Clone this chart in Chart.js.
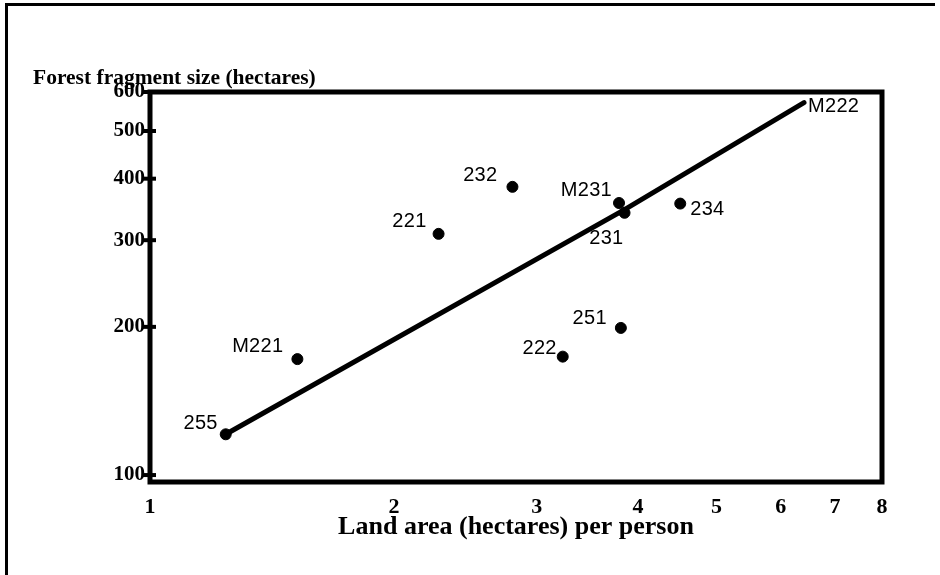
<!DOCTYPE html>
<html>
<head>
<meta charset="utf-8">
<script src="https://cdn.jsdelivr.net/npm/chart.js@4/dist/chart.umd.min.js"></script>
<style>
  body { margin: 0; background: #fff; }
  canvas { display: block; }
</style>
</head>
<body>
<canvas id="chart" width="940" height="575"></canvas>
<script>
// point data (log-log)
const pointNames = ['255', 'M221', '221', '232', '222', 'M231', '231', '251', '234'];
const landArea = [1.24, 1.52, 2.27, 2.80, 3.23, 3.79, 3.85, 3.81, 4.51];
const fragmentSize = [121, 172, 309, 385, 174, 357, 341, 199, 356];

// fitted line
const lineX = [1.24, 3.85, 6.41];
const lineY = [121, 346, 571];
const lineName = 'M222';

const xTicks = [1, 2, 3, 4, 5, 6, 7, 8];
const yTicks = [100, 200, 300, 400, 500, 600];

// label placement around each dot: [dx, dy, align]
const labelOffsets = [
    [-8, -11, 'right'], [-14, -13, 'right'], [-12, -12, 'right'],
    [-15, -11, 'right'], [-6, -8, 'right'], [-7, -13, 'right'],
    [-1, 26, 'right'], [-14, -9, 'right'], [10, 6, 'left']
];

const serif = '"Liberation Serif", "Times New Roman", serif';
const sans = '"Liberation Sans", Arial, sans-serif';

const labelsPlugin = {
    id: 'pointLabels',
    beforeDraw(chart) {
        const ctx = chart.ctx;
        ctx.save();
        ctx.fillStyle = '#000';
        ctx.fillRect(5, 3, 3, 572);
        ctx.fillRect(5, 3, 930, 3);
        ctx.restore();
    },
    afterDatasetsDraw(chart) {
        const ctx = chart.ctx;
        const area = chart.chartArea;
        ctx.save();
        ctx.strokeStyle = '#000';
        ctx.lineWidth = 5;
        ctx.strokeRect(area.left, area.top, area.right - area.left, area.bottom - area.top);

        // y tick marks crossing the left axis
        const ys = chart.scales.y;
        ctx.lineWidth = 4;
        yTicks.forEach(v => {
            const py = ys.getPixelForValue(v);
            ctx.beginPath();
            ctx.moveTo(area.left - 7, py);
            ctx.lineTo(area.left + 6, py);
            ctx.stroke();
        });

        ctx.fillStyle = '#000';
        ctx.font = '20px ' + sans;
        ctx.letterSpacing = '0.3px';
        ctx.textBaseline = 'middle';
        const pts = chart.getDatasetMeta(0).data;
        pts.forEach((p, i) => {
            const off = labelOffsets[i];
            ctx.textAlign = off[2];
            ctx.fillText(pointNames[i], p.x + off[0], p.y + off[1]);
        });
        const ln = chart.getDatasetMeta(1).data;
        const end = ln[ln.length - 1];
        ctx.textAlign = 'left';
        ctx.fillText(lineName, end.x + 4, end.y + 4);

        // y axis title, horizontal above the plot
        ctx.letterSpacing = '0px';
        ctx.font = 'bold 21.5px ' + serif;
        ctx.textAlign = 'left';
        ctx.fillText('Forest fragment size (hectares)', 33, 78);
        ctx.restore();
    }
};

new Chart(document.getElementById('chart'), {
    type: 'scatter',
    data: {
        datasets: [{
            data: landArea.map((x, i) => ({ x: x, y: fragmentSize[i] })),
            backgroundColor: '#000',
            borderColor: '#000',
            pointRadius: 5.5,
            pointHoverRadius: 5.5
        }, {
            data: lineX.map((x, i) => ({ x: x, y: lineY[i] })),
            showLine: true,
            borderColor: '#000',
            borderWidth: 5,
            borderCapStyle: 'round',
            pointRadius: 0,
            tension: 0
        }]
    },
    plugins: [labelsPlugin],
    options: {
        responsive: false,
        animation: false,
        devicePixelRatio: 1,
        layout: { padding: { left: 0, top: 92, right: 58, bottom: 0 } },
        plugins: {
            legend: { display: false },
            tooltip: { enabled: false }
        },
        scales: {
            x: {
                type: 'logarithmic',
                min: 1,
                max: 8,
                afterBuildTicks: axis => { axis.ticks = xTicks.map(v => ({ value: v })); },
                afterFit: axis => { axis.height = 575 - 482; },
                grid: { display: false, drawTicks: false },
                border: { display: false },
                ticks: {
                    color: '#000',
                    padding: 12,
                    maxRotation: 0,
                    autoSkip: false,
                    font: { family: serif, size: 22, weight: 'bold' },
                    callback: v => String(v)
                },
                title: {
                    display: true,
                    text: 'Land area (hectares) per person',
                    color: '#000',
                    font: { family: serif, size: 26, weight: 'bold' },
                    padding: { top: 0, bottom: 32 }
                }
            },
            y: {
                type: 'logarithmic',
                min: 96.8,
                max: 600,
                afterBuildTicks: axis => { axis.ticks = yTicks.map(v => ({ value: v })); },
                afterFit: axis => { axis.width = 150; },
                grid: { display: false, drawTicks: false },
                border: { display: false },
                ticks: {
                    color: '#000',
                    padding: 5,
                    autoSkip: false,
                    font: { family: serif, size: 21, weight: 'bold' },
                    callback: v => String(v)
                }
            }
        }
    }
});
</script>
</body>
</html>
